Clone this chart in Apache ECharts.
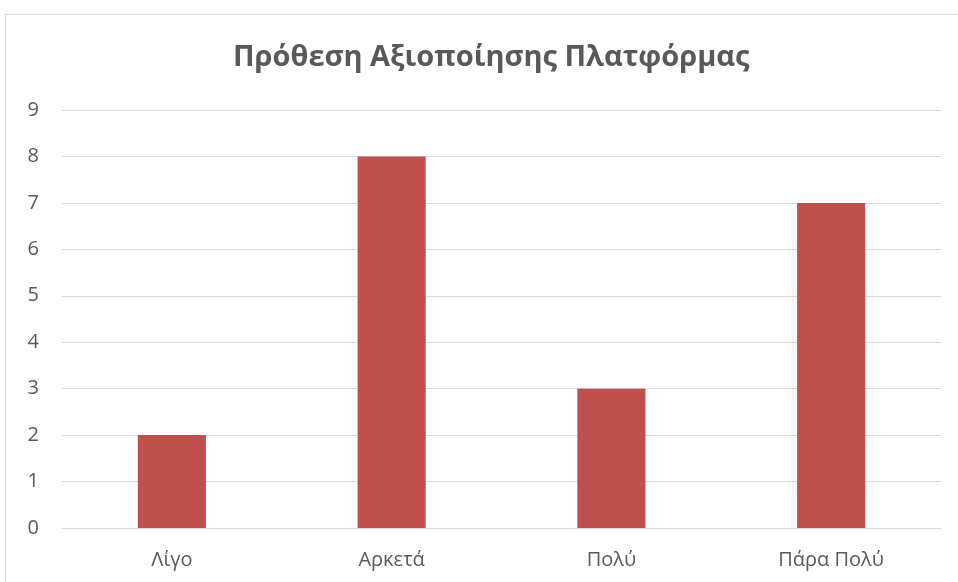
<!DOCTYPE html>
<html><head><meta charset="utf-8">
<script src="https://cdn.jsdelivr.net/npm/echarts@6/dist/echarts.min.js"></script>
<style>html,body{margin:0;padding:0;background:#fff}#c{width:958px;height:582px}</style>
</head><body><div id="c"></div>
<script>
const titleText = 'Πρόθεση Αξιοποίησης Πλατφόρμας';
const categories = ['Λίγο', 'Αρκετά', 'Πολύ', 'Πάρα Πολύ'];
const values = [2, 8, 3, 7];
const yTicks = [0, 1, 2, 3, 4, 5, 6, 7, 8, 9];

const chart = echarts.init(document.getElementById('c'), null, {renderer: 'canvas'});
chart.setOption({
  animation: false,
  backgroundColor: '#fff',
  graphic: [{type: 'rect', shape: {x: 5.5, y: 14.5, width: 1000, height: 1000},
    style: {fill: 'none', stroke: '#d9d9d9', lineWidth: 1}, silent: true, z: -1}],
  title: {text: titleText, left: 228, top: 38,
    textStyle: {fontFamily: 'Open Sans', fontWeight: 'bold', fontSize: 29, color: '#595959'}},
  grid: {left: 62, right: 17, top: 110, bottom: 54},
  xAxis: {type: 'category', data: categories,
    axisLine: {show: true, lineStyle: {color: '#d9d9d9', width: 1}},
    axisTick: {show: false},
    axisLabel: {fontFamily: 'Open Sans', fontSize: 20, color: '#595959', margin: 22}},
  yAxis: {type: 'value', min: yTicks[0], max: yTicks[yTicks.length - 1], interval: 1,
    axisLine: {show: false}, axisTick: {show: false},
    splitLine: {lineStyle: {color: '#d9d9d9', width: 1}},
    axisLabel: {fontFamily: 'Open Sans', fontSize: 20, color: '#595959', margin: 23}},
  series: [{type: 'bar', data: values, barWidth: '31%',
    itemStyle: {color: '#C0504D'}}]
});
</script></body></html>
